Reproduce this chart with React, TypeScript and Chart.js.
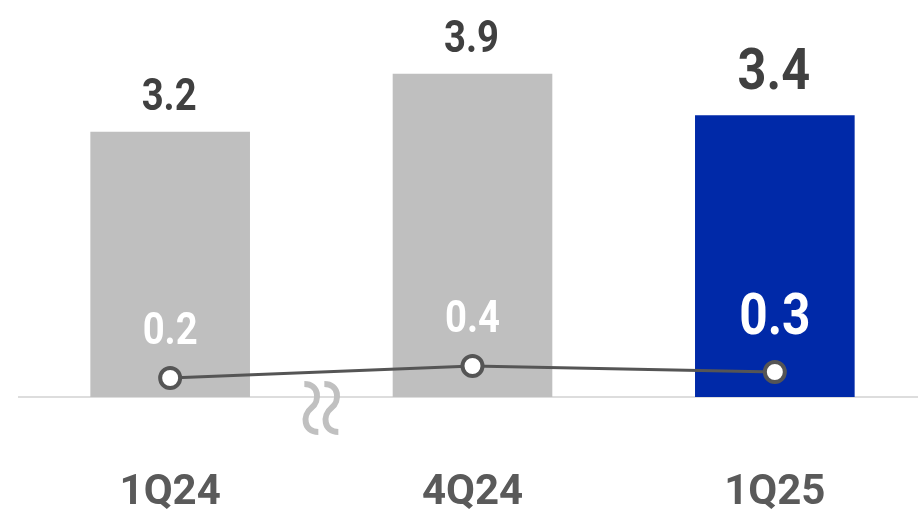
import React, { useEffect, useRef } from "react";
import { Chart, registerables } from "chart.js";

Chart.register(...registerables);

const categories = ["1Q24", "4Q24", "1Q25"];
const barValues = [3.2, 3.9, 3.4];
const lineValues = [0.2, 0.4, 0.3];
const barLabels = ["3.2", "3.9", "3.4"];
const lineLabels = ["0.2", "0.4", "0.3"];
const highlightIndex = 2;

const FONT = "Roboto, sans-serif";
const GRAY_BAR = "#bfbfbf";
const BLUE_BAR = "#0029a8";
const SQUEEZE = 0.87;

function drawSqueezed(ctx: CanvasRenderingContext2D, text: string, x: number, y: number) {
  ctx.save();
  ctx.translate(x, y);
  ctx.scale(SQUEEZE, 1);
  ctx.fillText(text, 0, 0);
  ctx.restore();
}

const labelPlugin = {
  id: "valueLabels",
  afterDatasetsDraw(chart: any) {
    const ctx = chart.ctx as CanvasRenderingContext2D;
    const barMeta = chart.getDatasetMeta(0);
    const lineMeta = chart.getDatasetMeta(1);
    const baseY = chart.chartArea.bottom;

    // axis break mark between the first and second category
    const p0 = barMeta.data[0];
    const p1 = barMeta.data[1];
    const mx = (p0.x + p1.x) / 2;
    const top = baseY - 13;
    const h = 48;
    ctx.save();
    ctx.strokeStyle = "#c0c0c0";
    ctx.lineWidth = 6;
    ctx.lineCap = "butt";
    for (const dx of [-10, 10]) {
      const cx = mx + dx;
      ctx.beginPath();
      ctx.moveTo(cx - 7, top);
      ctx.bezierCurveTo(cx + 8, top, cx + 9, top + h * 0.35, cx, top + h * 0.5);
      ctx.bezierCurveTo(cx - 9, top + h * 0.65, cx - 8, top + h, cx + 7, top + h);
      ctx.stroke();
    }
    ctx.restore();

    ctx.save();
    ctx.textAlign = "center";
    ctx.textBaseline = "alphabetic";
    barMeta.data.forEach((bar: any, i: number) => {
      const big = i === highlightIndex;
      ctx.font = `bold ${big ? 58 : 44}px ${FONT}`;
      ctx.fillStyle = "#404040";
      drawSqueezed(ctx, barLabels[i], bar.x - 1, bar.y - (big ? 26 : 22));
    });
    lineMeta.data.forEach((pt: any, i: number) => {
      const big = i === highlightIndex;
      ctx.font = `bold ${big ? 57 : 44}px ${FONT}`;
      ctx.fillStyle = "#ffffff";
      drawSqueezed(ctx, lineLabels[i], pt.x, pt.y - (big ? 38 : 34));
    });
    ctx.restore();
  },
};

export default function App() {
  const canvasRef = useRef<HTMLCanvasElement | null>(null);

  useEffect(() => {
    if (!canvasRef.current) return;
    const chart = new Chart(canvasRef.current, {
      type: "bar",
      data: {
        labels: categories,
        datasets: [
          {
            type: "bar",
            data: barValues,
            backgroundColor: barValues.map((_, i) => (i === highlightIndex ? BLUE_BAR : GRAY_BAR)),
            barPercentage: 0.528,
            categoryPercentage: 1,
            yAxisID: "y",
            order: 1,
          },
          {
            type: "line",
            data: lineValues,
            borderColor: "#555555",
            borderWidth: 3,
            pointRadius: 10,
            pointBorderWidth: 4,
            pointBackgroundColor: "#ffffff",
            pointBorderColor: "#555555",
            yAxisID: "y2",
            order: 0,
          } as any,
        ],
      },
      options: {
        animation: false,
        responsive: false,
        devicePixelRatio: 1,
        layout: { autoPadding: false, padding: { left: 19, right: 0, top: 0, bottom: 0 } },
        plugins: { legend: { display: false }, tooltip: { enabled: false } },
        scales: {
          x: {
            grid: { display: false, drawTicks: false },
            border: { display: true, color: "#dddddd", width: 2 },
            ticks: {
              color: "#5a5a5a",
              font: { family: FONT, size: 42, weight: "bold" },
              padding: 71,
            },
            afterFit: (scale: any) => {
              scale.height = 112;
            },
          },
          y: { display: false, min: 0, max: 4.79 },
          y2: { display: false, min: -0.1167, max: 6.5 },
        },
      },
      plugins: [labelPlugin],
    });
    return () => chart.destroy();
  }, []);

  return (
    <div
      style={{
        position: "fixed",
        left: 0,
        top: 0,
        width: 918,
        height: 509,
        overflow: "hidden",
        background: "#fff",
      }}
    >
      <canvas ref={canvasRef} width={926} height={509} style={{ width: 926, height: 509, display: "block" }} />
    </div>
  );
}
